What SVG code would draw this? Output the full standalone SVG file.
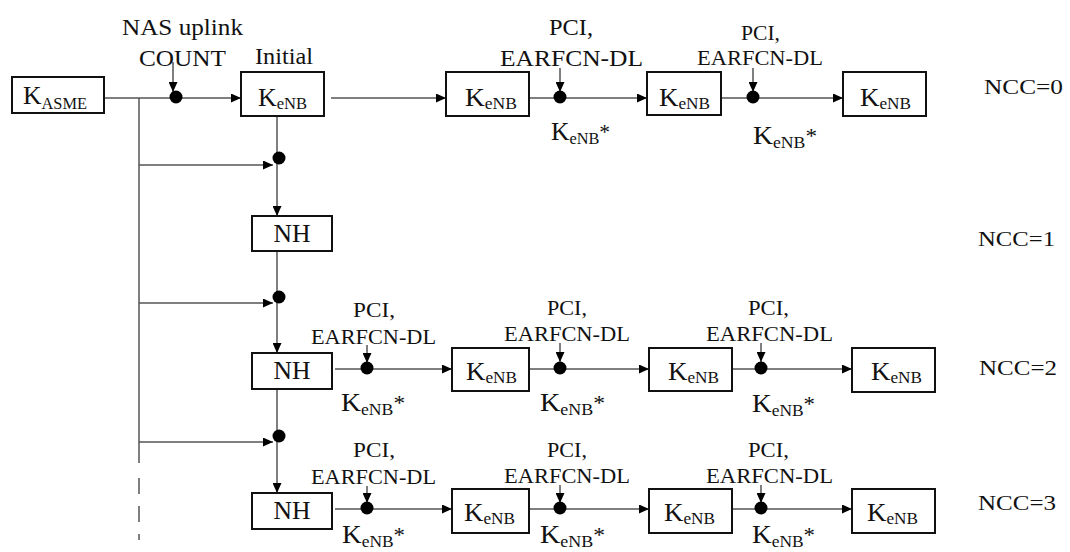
<svg xmlns="http://www.w3.org/2000/svg" width="1070" height="552" viewBox="0 0 1070 552" font-family="'Liberation Serif', 'Times New Roman', serif">
<style>
svg text, svg tspan{font-family:"Liberation Serif","Times New Roman","DejaVu Serif",serif;fill:#111}
.box{fill:#fff;stroke:#111;stroke-width:2}
.ln{stroke:#555;stroke-width:1.5;fill:none}
.dot{fill:#000}
.lb{font-size:23px}
.lb2{font-size:21px}
.k{font-size:25px}
.s{font-size:16px}
.ncc{font-size:22px}
</style>
<defs>
<marker id="ah" viewBox="0 0 10 9" refX="10" refY="4.5" markerWidth="10" markerHeight="9" markerUnits="userSpaceOnUse" orient="auto">
<path d="M0,0 L10,4.5 L0,9 z" fill="#000"/>
</marker>
</defs>
<rect width="1070" height="552" fill="#fff"/>

<g id="connectors">
<line class="ln" x1="104" y1="98" x2="241" y2="98" marker-end="url(#ah)"/>
<line class="ln" x1="173" y1="62" x2="173" y2="92" marker-end="url(#ah)"/>
<line class="ln" x1="331" y1="98" x2="446" y2="98" marker-end="url(#ah)"/>
<line class="ln" x1="529" y1="98" x2="647" y2="98" marker-end="url(#ah)"/>
<line class="ln" x1="560" y1="68" x2="560" y2="92" marker-end="url(#ah)"/>
<line class="ln" x1="721" y1="98" x2="843" y2="98" marker-end="url(#ah)"/>
<line class="ln" x1="753" y1="68" x2="753" y2="92" marker-end="url(#ah)"/>
<line class="ln" x1="139" y1="98" x2="139" y2="463"/>
<line class="ln" x1="139" y1="478" x2="139" y2="540" stroke-dasharray="16,12"/>
<line class="ln" x1="139" y1="165" x2="273" y2="165" marker-end="url(#ah)"/>
<line class="ln" x1="139" y1="303" x2="273" y2="303" marker-end="url(#ah)"/>
<line class="ln" x1="139" y1="442" x2="273" y2="442" marker-end="url(#ah)"/>
<line class="ln" x1="277" y1="116" x2="277" y2="216" marker-end="url(#ah)"/>
<line class="ln" x1="277" y1="251" x2="277" y2="353" marker-end="url(#ah)"/>
<line class="ln" x1="277" y1="389" x2="277" y2="493" marker-end="url(#ah)"/>
<line class="ln" x1="335" y1="369" x2="452" y2="369" marker-end="url(#ah)"/>
<line class="ln" x1="367" y1="345" x2="367" y2="363" marker-end="url(#ah)"/>
<line class="ln" x1="529" y1="369" x2="649" y2="369" marker-end="url(#ah)"/>
<line class="ln" x1="560" y1="343" x2="560" y2="362" marker-end="url(#ah)"/>
<line class="ln" x1="732" y1="369" x2="852" y2="369" marker-end="url(#ah)"/>
<line class="ln" x1="761" y1="343" x2="761" y2="362" marker-end="url(#ah)"/>
<line class="ln" x1="335" y1="509" x2="452" y2="509" marker-end="url(#ah)"/>
<line class="ln" x1="367" y1="486" x2="367" y2="503" marker-end="url(#ah)"/>
<line class="ln" x1="529" y1="509" x2="649" y2="509" marker-end="url(#ah)"/>
<line class="ln" x1="560" y1="485" x2="560" y2="503" marker-end="url(#ah)"/>
<line class="ln" x1="732" y1="509" x2="852" y2="509" marker-end="url(#ah)"/>
<line class="ln" x1="761" y1="485" x2="761" y2="503" marker-end="url(#ah)"/>
</g>

<g id="junctions">
<circle class="dot" cx="176" cy="97" r="6.5"/>
<circle class="dot" cx="560" cy="97" r="6.5"/>
<circle class="dot" cx="753" cy="97" r="6.5"/>
<circle class="dot" cx="279" cy="158" r="6.5"/>
<circle class="dot" cx="279" cy="297" r="6.5"/>
<circle class="dot" cx="279" cy="436" r="6.5"/>
<circle class="dot" cx="367" cy="368" r="6.5"/>
<circle class="dot" cx="560" cy="368" r="6.5"/>
<circle class="dot" cx="761" cy="368" r="6.5"/>
<circle class="dot" cx="367" cy="508" r="6.5"/>
<circle class="dot" cx="560" cy="508" r="6.5"/>
<circle class="dot" cx="761" cy="508" r="6.5"/>
</g>

<g id="kasme">
<rect class="box" x="12" y="77" width="92" height="36"/>
<text x="23" y="104" textLength="64" lengthAdjust="spacingAndGlyphs"><tspan class="k">K</tspan><tspan class="s" dy="5">ASME</tspan></text>
</g>

<g id="kenb-initial">
<rect class="box" x="241" y="72" width="83" height="44"/>
<text x="258" y="106" textLength="49" lengthAdjust="spacingAndGlyphs"><tspan class="k">K</tspan><tspan class="s" dy="3">eNB</tspan></text>
</g>
<g id="kenb-0-1">
<rect class="box" x="446" y="72" width="83" height="44"/>
<text x="465" y="106" textLength="52" lengthAdjust="spacingAndGlyphs"><tspan class="k">K</tspan><tspan class="s" dy="3">eNB</tspan></text>
</g>
<g id="kenb-0-2">
<rect class="box" x="647" y="72" width="74" height="43"/>
<text x="659" y="106" textLength="51" lengthAdjust="spacingAndGlyphs"><tspan class="k">K</tspan><tspan class="s" dy="3">eNB</tspan></text>
</g>
<g id="kenb-0-3">
<rect class="box" x="843" y="72" width="83" height="44"/>
<text x="860" y="106" textLength="51" lengthAdjust="spacingAndGlyphs"><tspan class="k">K</tspan><tspan class="s" dy="3">eNB</tspan></text>
</g>

<g id="nh-1">
<rect class="box" x="252" y="216" width="80" height="35"/>
<text class="k" x="292" y="242" text-anchor="middle" textLength="37" lengthAdjust="spacingAndGlyphs">NH</text>
</g>
<g id="nh-2">
<rect class="box" x="252" y="353" width="80" height="36"/>
<text class="k" x="292" y="379" text-anchor="middle" textLength="37" lengthAdjust="spacingAndGlyphs">NH</text>
</g>
<g id="nh-3">
<rect class="box" x="252" y="493" width="80" height="36"/>
<text class="k" x="292" y="519" text-anchor="middle" textLength="37" lengthAdjust="spacingAndGlyphs">NH</text>
</g>

<g id="kenb-2-1">
<rect class="box" x="452" y="348" width="77" height="43"/>
<text x="466" y="380" textLength="51" lengthAdjust="spacingAndGlyphs"><tspan class="k">K</tspan><tspan class="s" dy="3">eNB</tspan></text>
</g>
<g id="kenb-2-2">
<rect class="box" x="649" y="348" width="83" height="43"/>
<text x="668" y="380" textLength="51" lengthAdjust="spacingAndGlyphs"><tspan class="k">K</tspan><tspan class="s" dy="3">eNB</tspan></text>
</g>
<g id="kenb-2-3">
<rect class="box" x="852" y="348" width="83" height="44"/>
<text x="871" y="380" textLength="51" lengthAdjust="spacingAndGlyphs"><tspan class="k">K</tspan><tspan class="s" dy="3">eNB</tspan></text>
</g>

<g id="kenb-3-1">
<rect class="box" x="452" y="489" width="77" height="44"/>
<text x="464" y="521" textLength="51" lengthAdjust="spacingAndGlyphs"><tspan class="k">K</tspan><tspan class="s" dy="3">eNB</tspan></text>
</g>
<g id="kenb-3-2">
<rect class="box" x="649" y="489" width="83" height="44"/>
<text x="664" y="521" textLength="51" lengthAdjust="spacingAndGlyphs"><tspan class="k">K</tspan><tspan class="s" dy="3">eNB</tspan></text>
</g>
<g id="kenb-3-3">
<rect class="box" x="852" y="489" width="83" height="44"/>
<text x="867" y="521" textLength="51" lengthAdjust="spacingAndGlyphs"><tspan class="k">K</tspan><tspan class="s" dy="3">eNB</tspan></text>
</g>

<g id="labels">
<text class="lb" x="122" y="35" textLength="121" lengthAdjust="spacingAndGlyphs">NAS uplink</text>
<text class="lb" x="139" y="66" textLength="87" lengthAdjust="spacingAndGlyphs">COUNT</text>
<text class="lb" x="255" y="64" textLength="58" lengthAdjust="spacingAndGlyphs">Initial</text>

<text class="lb" x="549" y="35" textLength="44" lengthAdjust="spacingAndGlyphs">PCI,</text>
<text class="lb" x="500" y="66" textLength="143" lengthAdjust="spacingAndGlyphs">EARFCN-DL</text>
<text class="lb2" x="741" y="40" textLength="39" lengthAdjust="spacingAndGlyphs">PCI,</text>
<text class="lb2" x="697" y="65" textLength="126" lengthAdjust="spacingAndGlyphs">EARFCN-DL</text>
<text x="551" y="140" textLength="59" lengthAdjust="spacingAndGlyphs"><tspan class="k">K</tspan><tspan class="s" dy="4">eNB</tspan><tspan class="lb2" dy="-5">*</tspan></text>
<text x="753" y="144" textLength="64" lengthAdjust="spacingAndGlyphs"><tspan class="k">K</tspan><tspan class="s" dy="4">eNB</tspan><tspan class="lb2" dy="-5">*</tspan></text>

<text class="lb2" x="353" y="317" textLength="42" lengthAdjust="spacingAndGlyphs">PCI,</text>
<text class="lb2" x="311" y="344" textLength="125" lengthAdjust="spacingAndGlyphs">EARFCN-DL</text>
<text class="lb2" x="547" y="315" textLength="40" lengthAdjust="spacingAndGlyphs">PCI,</text>
<text class="lb2" x="504" y="341" textLength="126" lengthAdjust="spacingAndGlyphs">EARFCN-DL</text>
<text class="lb2" x="748" y="315" textLength="41" lengthAdjust="spacingAndGlyphs">PCI,</text>
<text class="lb2" x="706" y="341" textLength="127" lengthAdjust="spacingAndGlyphs">EARFCN-DL</text>
<text x="341" y="411" textLength="64" lengthAdjust="spacingAndGlyphs"><tspan class="k">K</tspan><tspan class="s" dy="4">eNB</tspan><tspan class="lb2" dy="-5">*</tspan></text>
<text x="540" y="411" textLength="65" lengthAdjust="spacingAndGlyphs"><tspan class="k">K</tspan><tspan class="s" dy="4">eNB</tspan><tspan class="lb2" dy="-5">*</tspan></text>
<text x="752" y="412" textLength="63" lengthAdjust="spacingAndGlyphs"><tspan class="k">K</tspan><tspan class="s" dy="4">eNB</tspan><tspan class="lb2" dy="-5">*</tspan></text>

<text class="lb2" x="353" y="457" textLength="42" lengthAdjust="spacingAndGlyphs">PCI,</text>
<text class="lb2" x="311" y="484" textLength="125" lengthAdjust="spacingAndGlyphs">EARFCN-DL</text>
<text class="lb2" x="547" y="457" textLength="40" lengthAdjust="spacingAndGlyphs">PCI,</text>
<text class="lb2" x="504" y="483" textLength="126" lengthAdjust="spacingAndGlyphs">EARFCN-DL</text>
<text class="lb2" x="748" y="457" textLength="41" lengthAdjust="spacingAndGlyphs">PCI,</text>
<text class="lb2" x="706" y="483" textLength="127" lengthAdjust="spacingAndGlyphs">EARFCN-DL</text>
<text x="342" y="543" textLength="63" lengthAdjust="spacingAndGlyphs"><tspan class="k">K</tspan><tspan class="s" dy="4">eNB</tspan><tspan class="lb2" dy="-5">*</tspan></text>
<text x="540" y="543" textLength="65" lengthAdjust="spacingAndGlyphs"><tspan class="k">K</tspan><tspan class="s" dy="4">eNB</tspan><tspan class="lb2" dy="-5">*</tspan></text>
<text x="752" y="543" textLength="63" lengthAdjust="spacingAndGlyphs"><tspan class="k">K</tspan><tspan class="s" dy="4">eNB</tspan><tspan class="lb2" dy="-5">*</tspan></text>

<text class="ncc" x="984" y="94" textLength="79" lengthAdjust="spacingAndGlyphs">NCC=0</text>
<text class="ncc" x="978" y="246" textLength="77" lengthAdjust="spacingAndGlyphs">NCC=1</text>
<text class="ncc" x="979" y="375" textLength="78" lengthAdjust="spacingAndGlyphs">NCC=2</text>
<text class="ncc" x="978" y="510" textLength="78" lengthAdjust="spacingAndGlyphs">NCC=3</text>
</g>
</svg>
